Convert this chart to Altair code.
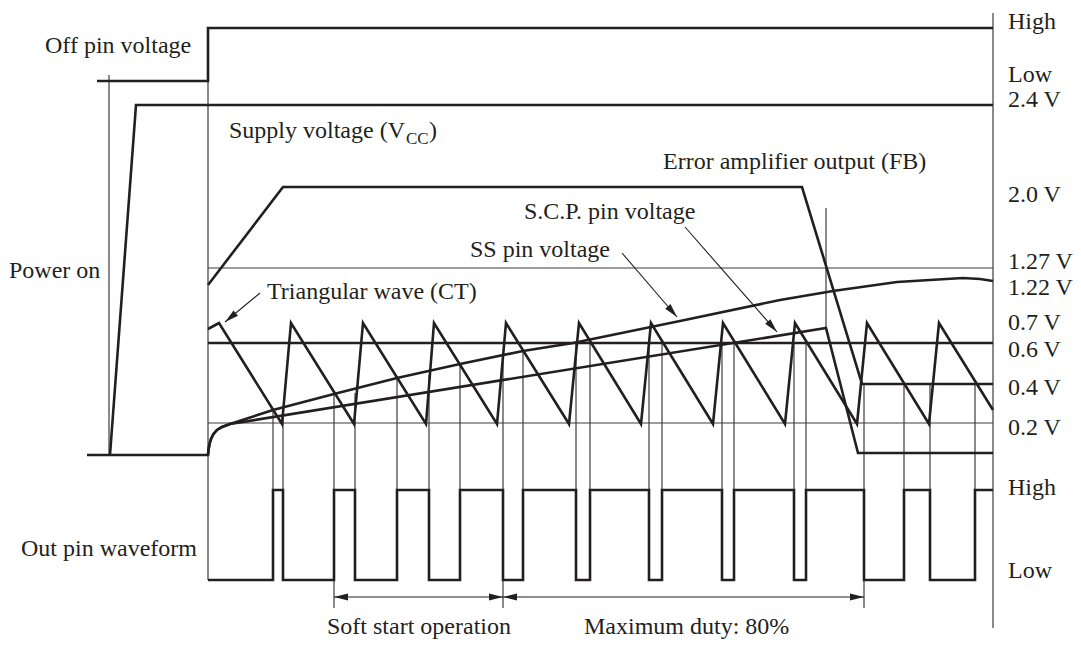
import altair as alt
import pandas as pd

INK = "#231f20"
THIN = "#3c3c3c"

# ---- thick traces (diagram coordinates) ----
off_x = [97, 208, 208, 993]
off_y = [81, 81, 28, 28]

vcc_x = [110, 136, 993]
vcc_y = [455, 105, 105]

fb_x = [208, 283, 802, 862, 993]
fb_y = [285, 187, 187, 384, 384]

ss_x = [87, 208, 208.5, 209.5, 211, 213.5, 217, 222, 230, 273, 334, 397, 460, 523, 573, 680, 780, 833, 897, 963, 980, 993]
ss_y = [455, 455, 450, 444, 439, 434, 430, 427, 424, 410, 394, 378, 364, 351, 343, 321, 300, 291, 282, 278, 279, 281]

scp_x = [208, 208.5, 209.5, 211, 213.5, 217, 222, 230, 826, 858, 993]
scp_y = [455, 450, 444, 439, 434, 430, 427, 424, 328, 453, 453]

ct_x = [208, 219, 282, 291, 354, 363, 426, 434, 497, 506, 569, 579, 641, 651, 713, 723, 785, 795, 857, 867, 929, 939, 993]
ct_y = [329, 323, 424, 323, 424, 323, 424, 323, 424, 323, 424, 323, 424, 323, 424, 323, 424, 323, 424, 323, 424, 323, 410]

dead_x = [208, 993]
dead_y = [343, 343]

out_start, out_end = 208, 993
out_low, out_high = 580, 490
out_edges = [273, 283, 334, 355, 397, 429, 460, 503, 523, 576, 590, 649, 662, 722, 734, 794, 806, 864, 904, 930, 975]

# ---- thin reference lines ----
ref_x = [208, 208, 109, 208, 993, 826]
ref_x2 = [993, 993, 109, 208, 993, 826]
ref_y = [268, 423, 75, 28, 13, 208]
ref_y2 = [268, 423, 455, 580, 628, 328]

mark_x = [273, 283, 334, 355, 397, 429, 460, 503, 523, 576, 590, 649, 662, 722, 734, 794, 806, 864, 904, 930, 975]
mark_top = [409, 410, 391, 393, 377, 375, 364, 358, 350, 343, 343, 343, 343, 343, 343, 343, 343, 384, 384, 384, 384]
mark_bot = [580, 580, 608, 580, 580, 580, 580, 608, 580, 580, 580, 580, 580, 580, 580, 580, 580, 608, 580, 580, 580]

# ---- arrows ----
arr_x = [260, 622, 685, 334, 503]
arr_y = [293, 253, 227, 597, 597]
arr_x2 = [225, 677, 777, 503, 864]
arr_y2 = [322, 317, 332, 597, 597]

head_x = [225, 677, 777, 334, 503, 503, 864]
head_y = [322, 317, 332, 597, 597, 597, 597]
head_angle = [140.4, 49.3, 48.8, 180, 0, 180, 0]

# ---- labels ----
lab_text = ["Off pin voltage", "Supply voltage (V", ")", "Power on",
            "Error amplifier output (FB)", "S.C.P. pin voltage", "SS pin voltage",
            "Triangular wave (CT)", "Out pin waveform", "Soft start operation",
            "Maximum duty: 80%",
            "High", "Low", "2.4 V", "2.0 V", "1.27 V", "1.22 V", "0.7 V", "0.6 V",
            "0.4 V", "0.2 V", "High", "Low"]
lab_x = [45, 229, 429, 9, 663, 524, 470, 267, 21, 327, 584,
         1008, 1008, 1008, 1008, 1008, 1008, 1008, 1008, 1008, 1008, 1008, 1008]
lab_y = [53, 138, 138, 278, 169, 219, 257, 299, 556, 634, 634,
         29, 82, 107, 202, 269, 295, 330, 357, 395, 435, 495, 578]

sub_text = ["CC"]
sub_x = [406]
sub_y = [144]

# ---- build tables ----
rows = []
def add(name, xs, ys):
    for i, (a, b) in enumerate(zip(xs, ys)):
        rows.append({"trace": name, "i": i, "x": a, "y": b})

add("off", off_x, off_y)
add("vcc", vcc_x, vcc_y)
add("fb", fb_x, fb_y)
add("ss", ss_x, ss_y)
add("scp", scp_x, scp_y)
add("ct", ct_x, ct_y)
add("dead", dead_x, dead_y)

ox, oy = [out_start], [out_low]
lvl = out_low
for e in out_edges:
    nxt = out_high if lvl == out_low else out_low
    ox += [e, e]
    oy += [lvl, nxt]
    lvl = nxt
ox.append(out_end)
oy.append(lvl)
add("out", ox, oy)
traces_df = pd.DataFrame(rows)

thin_df = pd.DataFrame({
    "x": ref_x + mark_x,
    "x2": ref_x2 + mark_x,
    "y": ref_y + mark_top,
    "y2": ref_y2 + mark_bot,
})
arr_df = pd.DataFrame({"x": arr_x, "x2": arr_x2, "y": arr_y, "y2": arr_y2})
head_df = pd.DataFrame({"x": head_x, "y": head_y, "a": head_angle})
lab_df = pd.DataFrame({"t": lab_text, "x": lab_x, "y": lab_y})
sub_df = pd.DataFrame({"t": sub_text, "x": sub_x, "y": sub_y})

X = alt.Scale(domain=[8, 1073], nice=False, zero=False)
Y = alt.Scale(domain=[640, 8], nice=False, zero=False)

def xe(f="x"):
    return alt.X(f + ":Q", scale=X, axis=None)

def ye(f="y"):
    return alt.Y(f + ":Q", scale=Y, axis=None)

traces = alt.Chart(traces_df).mark_line(color=INK, strokeWidth=2.6).encode(
    x=xe(), y=ye(), detail="trace:N", order="i:Q")

thin = alt.Chart(thin_df).mark_rule(color=THIN, strokeWidth=1.2).encode(
    x=xe(), x2="x2:Q", y=ye(), y2="y2:Q")

shafts = alt.Chart(arr_df).mark_rule(color=INK, strokeWidth=1.1).encode(
    x=xe(), x2="x2:Q", y=ye(), y2="y2:Q")

heads = alt.Chart(head_df).mark_point(
    shape="M0,0L-2,-0.5L-2,0.5Z", filled=True, size=196, color=INK,
    opacity=1, strokeWidth=0).encode(
    x=xe(), y=ye(), angle=alt.Angle("a:Q", scale=None))

labels = alt.Chart(lab_df).mark_text(
    align="left", baseline="alphabetic", font="Liberation Serif",
    fontSize=24, color=INK).encode(x=xe(), y=ye(), text="t:N")

subs = alt.Chart(sub_df).mark_text(
    align="left", baseline="alphabetic", font="Liberation Serif",
    fontSize=17, color=INK).encode(x=xe(), y=ye(), text="t:N")

chart = alt.layer(thin, traces, shafts, heads, labels, subs).properties(
    width=1065, height=632, padding=0, autosize="none", background="white"
).configure_view(stroke=None)

chart.save("out.html", embed_options={"renderer": "svg", "actions": False})
